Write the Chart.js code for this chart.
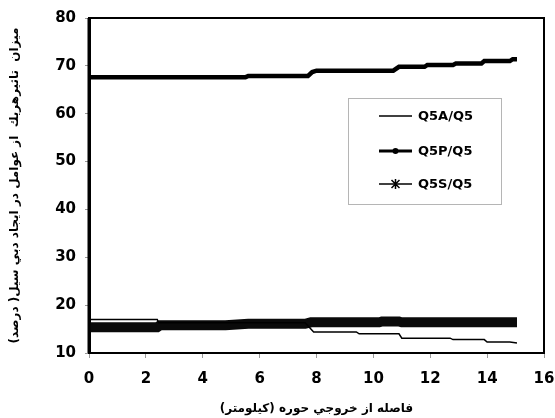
<!DOCTYPE html>
<html><head><meta charset="utf-8">
<script src="https://cdn.jsdelivr.net/npm/chart.js@4"></script>
<style>html,body{margin:0;padding:0;background:#fff}#wrap{width:555px;height:418px}</style>
</head><body><div id="wrap"><canvas id="c" width="555" height="418" dir="rtl"></canvas></div>
<script>
const seriesLabels = ['Q5A/Q5', 'Q5P/Q5', 'Q5S/Q5'];
const q5aX = [0, 2.4, 2.45, 7.6, 7.9, 9.4, 9.5, 10.9, 11.0, 12.7, 12.8, 13.9, 14.0, 14.8, 15.05];
const q5aY = [17.0, 17.0, 16.3, 16.3, 14.4, 14.4, 14.0, 14.0, 13.1, 13.1, 12.8, 12.8, 12.3, 12.3, 12.1];
const q5pX = [0, 5.5, 5.6, 7.7, 7.85, 8.0, 10.7, 10.9, 11.8, 11.9, 12.8, 12.9, 13.8, 13.9, 14.8, 14.9, 15.05];
const q5pY = [67.6, 67.6, 67.9, 67.9, 68.7, 69.0, 69.0, 69.8, 69.8, 70.2, 70.2, 70.5, 70.5, 71.0, 71.0, 71.4, 71.4];
const q5sX = [0, 2.4, 2.5, 4.8, 5.6, 7.6, 7.8, 10.2, 10.3, 10.9, 11.0, 15.05];
const q5sY = [15.4, 15.4, 15.8, 15.8, 16.1, 16.1, 16.4, 16.4, 16.6, 16.6, 16.4, 16.4];
const xAxisTitle = 'فاصله از خروجي حوره (كيلومتر)';
const yAxisTitle = 'ميزان  تاثيرهريك  از عوامل در ايجاد دبي سيل( درصد)';

const toPts = (xs, ys) => xs.map((x, i) => ({x: x, y: ys[i]}));

const framePlugin = {
  id: 'frame',
  afterDatasetsDraw(chart) {
    const a = chart.chartArea, c = chart.ctx;
    c.save();
    c.strokeStyle = '#000';
    c.lineWidth = 2;
    c.strokeRect(a.left, a.top, a.right - a.left, a.bottom - a.top);
    c.lineWidth = 3;
    c.beginPath(); c.moveTo(a.left, a.top); c.lineTo(a.left, a.bottom); c.stroke();
    c.restore();
  }
};

const legendPlugin = {
  id: 'boxLegend',
  afterDraw(chart) {
    const a = chart.chartArea, c = chart.ctx;
    const bx = a.right - 196, by = a.top + 80, bw = 153, bh = 106;
    c.save();
    c.direction = 'ltr';
    c.strokeStyle = '#b5b5b5';
    c.lineWidth = 1;
    c.strokeRect(bx + 0.5, by + 0.5, bw, bh);
    const rows = [by + 18, by + 53, by + 86];
    const widths = [1.5, 3, 1.5];
    const markers = [null, 'circle', 'star'];
    chart.data.datasets.forEach((ds, i) => {
      const y = rows[i];
      c.strokeStyle = '#000';
      c.lineWidth = widths[i];
      c.beginPath(); c.moveTo(bx + 31, y); c.lineTo(bx + 64, y); c.stroke();
      const mx = bx + 47.5;
      if (markers[i] === 'circle') {
        c.fillStyle = '#000';
        c.beginPath(); c.arc(mx, y, 3, 0, Math.PI * 2); c.fill();
      } else if (markers[i] === 'star') {
        c.lineWidth = 1.5;
        const r = 4;
        c.beginPath();
        c.moveTo(mx - r, y - r); c.lineTo(mx + r, y + r);
        c.moveTo(mx - r, y + r); c.lineTo(mx + r, y - r);
        c.moveTo(mx, y - r - 1); c.lineTo(mx, y + r + 1);
        c.stroke();
      }
      c.fillStyle = '#000';
      c.font = 'bold 13px "DejaVu Sans"';
      c.textAlign = 'left';
      c.textBaseline = 'middle';
      c.fillText(ds.label, bx + 70, y + 1);
    });
    c.restore();
  }
};

const tickFont = {family: '"DejaVu Sans"', weight: 'bold', size: 15};

new Chart(document.getElementById('c'), {
  type: 'scatter',
  data: {
    datasets: [
      {label: seriesLabels[0], data: toPts(q5aX, q5aY), showLine: true, borderColor: '#000', backgroundColor: '#000', borderWidth: 1.5, pointRadius: 0},
      {label: seriesLabels[1], data: toPts(q5pX, q5pY), showLine: true, borderColor: '#000', backgroundColor: '#000', borderWidth: 4.5, pointRadius: 0},
      {label: seriesLabels[2], data: toPts(q5sX, q5sY), showLine: true, borderColor: '#0a0a0a', backgroundColor: '#000', borderWidth: 10, pointRadius: 0}
    ]
  },
  options: {
    responsive: false,
    animation: false,
    devicePixelRatio: 1,
    layout: {padding: {left: 0, right: 0, top: 17, bottom: 0}},
    plugins: {legend: {display: false}, tooltip: {enabled: false}},
    scales: {
      x: {
        type: 'linear', min: 0, max: 16,
        ticks: {stepSize: 2, color: '#000', font: tickFont, padding: 12, maxRotation: 0},
        grid: {drawOnChartArea: false, drawTicks: true, tickLength: 5, color: '#999'},
        border: {display: true, color: '#000', width: 2},
        title: {display: true, text: xAxisTitle, color: '#000', font: {family: '"DejaVu Sans"', size: 12, weight: 'bold'}, padding: {top: 0, bottom: 2}},
        afterFit(s) { s.height = 65; s.paddingRight = 11; s.paddingLeft = 0; }
      },
      y: {
        type: 'linear', min: 10, max: 80,
        ticks: {stepSize: 10, color: '#000', font: tickFont, padding: 9},
        grid: {drawOnChartArea: false, drawTicks: true, tickLength: 4, color: '#999'},
        border: {display: true, color: '#000', width: 3},
        title: {display: true, text: yAxisTitle, color: '#000', font: {family: '"DejaVu Sans"', size: 12, weight: 'bold'}, padding: {top: 8, bottom: 0}},
        afterFit(s) { s.width = 89; }
      }
    }
  },
  plugins: [framePlugin, legendPlugin]
});
</script>
</body></html>
